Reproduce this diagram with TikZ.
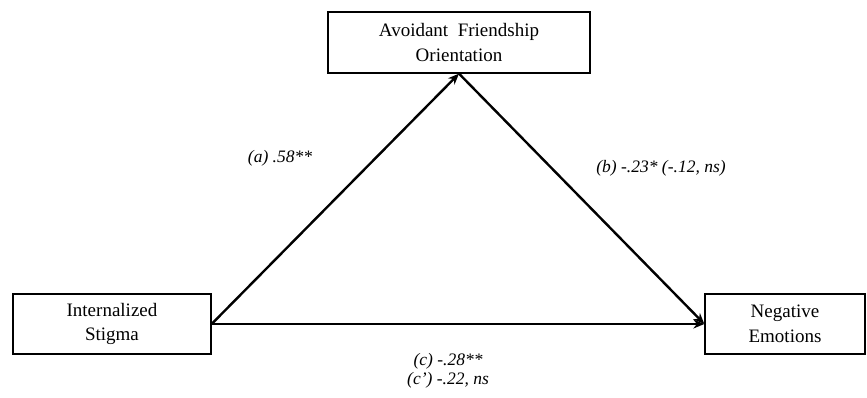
\documentclass[tikz,border=0pt]{standalone}
\usepackage{fontspec}
\setmainfont{Liberation Serif}
\usetikzlibrary{arrows.meta}
\tikzset{
  varbox/.style ={draw, rectangle, line width=1.3pt, align=center, inner sep=0pt,
                  font=\fontsize{19}{24.5}\selectfont},
  path/.style   ={-{Stealth[length=11pt, width=9pt]}, line width=2.4pt},  % regression path
  coef/.style   ={font=\fontsize{17.5}{19}\selectfont\itshape, align=center},
}
\begin{document}
\begin{tikzpicture}[x=1pt, y=-1pt]
  \useasboundingbox (0,0) rectangle (867,398);
  % variables
  \node[varbox, minimum width=262pt, minimum height=61pt] (avoid)  at (459,42.5) {Avoidant\ \ Friendship\\Orientation};
  \node[varbox, minimum width=198pt, minimum height=60pt] (stigma) at (112,324)  {Internalized\\Stigma};
  \node[varbox, minimum width=160pt, minimum height=60pt] (negemo) at (785,324)  {Negative\\Emotions};

  % paths
  \draw[path] (stigma.east) -- (avoid.south);
  \draw[path] (avoid.south) -- (negemo.west);
  \draw[path] (stigma.east) -- (negemo.west);

  % coefficients
  \node[coef] (acoef) at (280,158) {(a) .58**};
  \node[coef] (bcoef) at (661,168) {(b) -.23* (-.12, ns)};
  \node[coef] (ccoef) at (448,371) {(c) -.28**\\(c') -.22, ns};
\end{tikzpicture}
\end{document}
